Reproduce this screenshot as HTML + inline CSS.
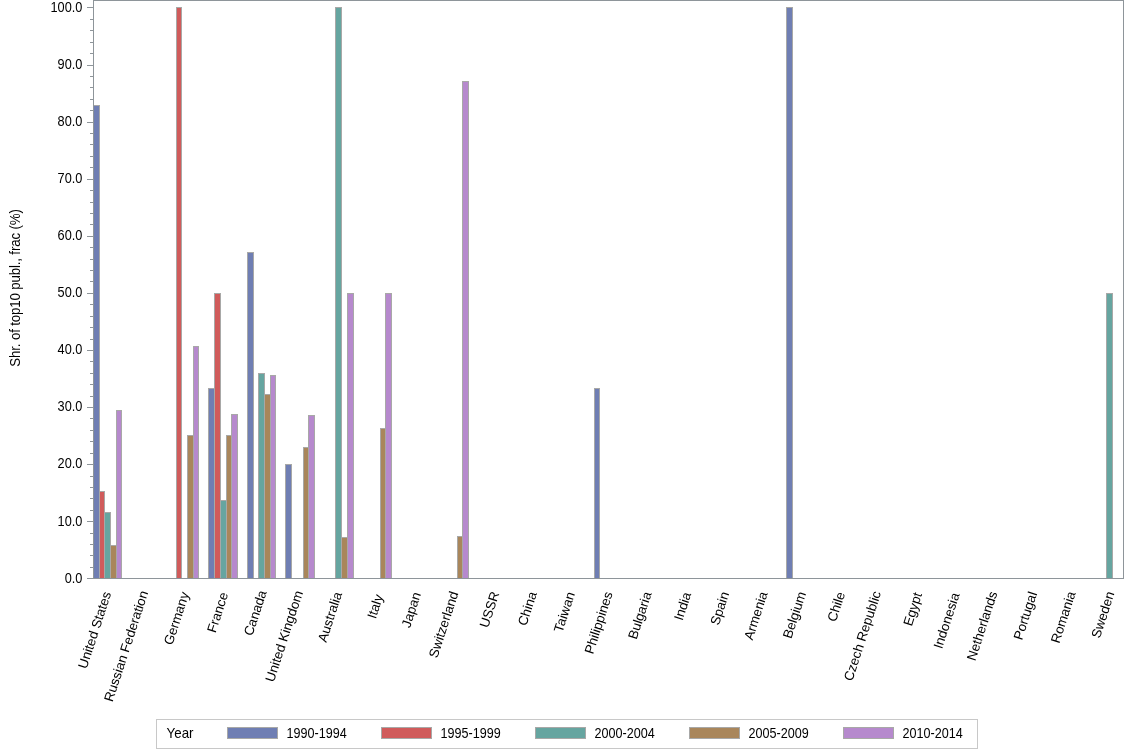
<!DOCTYPE html>
<html><head><meta charset="utf-8"><title>Chart</title>
<style>html,body{margin:0;padding:0;background:#fff}svg{display:block}text{font-family:"Liberation Sans",Arial,sans-serif;font-size:12.5px;fill:#000}.yt{font-size:14px}.lb{font-size:14px}.xl{font-size:13.33px}</style></head><body>
<svg width="1134" height="756" viewBox="0 0 1134 756">
<rect x="0" y="0" width="1134" height="756" fill="#fff"/>
<g shape-rendering="crispEdges">
<rect x="93.5" y="105.5" width="6" height="473" fill="#6F7EB3" stroke="#A8A8A7" stroke-width="1"/>
<rect x="99.5" y="491.5" width="5" height="87" fill="#D05B5B" stroke="#A8A8A7" stroke-width="1"/>
<rect x="104.5" y="512.5" width="6" height="66" fill="#66A5A0" stroke="#A8A8A7" stroke-width="1"/>
<rect x="110.5" y="545.5" width="6" height="33" fill="#A9865B" stroke="#A8A8A7" stroke-width="1"/>
<rect x="116.5" y="410.5" width="5" height="168" fill="#B689CD" stroke="#A8A8A7" stroke-width="1"/>
<rect x="176.5" y="7.5" width="5" height="571" fill="#D05B5B" stroke="#A8A8A7" stroke-width="1"/>
<rect x="187.5" y="435.5" width="6" height="143" fill="#A9865B" stroke="#A8A8A7" stroke-width="1"/>
<rect x="193.5" y="346.5" width="5" height="232" fill="#B689CD" stroke="#A8A8A7" stroke-width="1"/>
<rect x="208.5" y="388.5" width="6" height="190" fill="#6F7EB3" stroke="#A8A8A7" stroke-width="1"/>
<rect x="214.5" y="293.5" width="6" height="285" fill="#D05B5B" stroke="#A8A8A7" stroke-width="1"/>
<rect x="220.5" y="500.5" width="6" height="78" fill="#66A5A0" stroke="#A8A8A7" stroke-width="1"/>
<rect x="226.5" y="435.5" width="5" height="143" fill="#A9865B" stroke="#A8A8A7" stroke-width="1"/>
<rect x="231.5" y="414.5" width="6" height="164" fill="#B689CD" stroke="#A8A8A7" stroke-width="1"/>
<rect x="247.5" y="252.5" width="6" height="326" fill="#6F7EB3" stroke="#A8A8A7" stroke-width="1"/>
<rect x="258.5" y="373.5" width="6" height="205" fill="#66A5A0" stroke="#A8A8A7" stroke-width="1"/>
<rect x="264.5" y="394.5" width="6" height="184" fill="#A9865B" stroke="#A8A8A7" stroke-width="1"/>
<rect x="270.5" y="375.5" width="5" height="203" fill="#B689CD" stroke="#A8A8A7" stroke-width="1"/>
<rect x="285.5" y="464.5" width="6" height="114" fill="#6F7EB3" stroke="#A8A8A7" stroke-width="1"/>
<rect x="303.5" y="447.5" width="5" height="131" fill="#A9865B" stroke="#A8A8A7" stroke-width="1"/>
<rect x="308.5" y="415.5" width="6" height="163" fill="#B689CD" stroke="#A8A8A7" stroke-width="1"/>
<rect x="335.5" y="7.5" width="6" height="571" fill="#66A5A0" stroke="#A8A8A7" stroke-width="1"/>
<rect x="341.5" y="537.5" width="6" height="41" fill="#A9865B" stroke="#A8A8A7" stroke-width="1"/>
<rect x="347.5" y="293.5" width="6" height="285" fill="#B689CD" stroke="#A8A8A7" stroke-width="1"/>
<rect x="380.5" y="428.5" width="5" height="150" fill="#A9865B" stroke="#A8A8A7" stroke-width="1"/>
<rect x="385.5" y="293.5" width="6" height="285" fill="#B689CD" stroke="#A8A8A7" stroke-width="1"/>
<rect x="457.5" y="536.5" width="5" height="42" fill="#A9865B" stroke="#A8A8A7" stroke-width="1"/>
<rect x="462.5" y="81.5" width="6" height="497" fill="#B689CD" stroke="#A8A8A7" stroke-width="1"/>
<rect x="594.5" y="388.5" width="5" height="190" fill="#6F7EB3" stroke="#A8A8A7" stroke-width="1"/>
<rect x="786.5" y="7.5" width="6" height="571" fill="#6F7EB3" stroke="#A8A8A7" stroke-width="1"/>
<rect x="1106.5" y="293.5" width="6" height="285" fill="#66A5A0" stroke="#A8A8A7" stroke-width="1"/>
<path d="M93.5 578.5V0.5H1123.5V578.5" fill="none" stroke="#8E959A"/>
<path d="M87 578.5H1124" fill="none" stroke="#8E959A"/>
<path d="M87 578.5H93M90 567.5H93M90 555.5H93M90 544.5H93M90 533.5H93M87 521.5H93M90 510.5H93M90 498.5H93M90 487.5H93M90 476.5H93M87 464.5H93M90 453.5H93M90 441.5H93M90 430.5H93M90 418.5H93M87 407.5H93M90 396.5H93M90 384.5H93M90 373.5H93M90 361.5H93M87 350.5H93M90 339.5H93M90 327.5H93M90 316.5H93M90 304.5H93M87 293.5H93M90 281.5H93M90 270.5H93M90 259.5H93M90 247.5H93M87 236.5H93M90 224.5H93M90 213.5H93M90 202.5H93M90 190.5H93M87 179.5H93M90 167.5H93M90 156.5H93M90 144.5H93M90 133.5H93M87 122.5H93M90 110.5H93M90 99.5H93M90 87.5H93M90 76.5H93M87 65.5H93M90 53.5H93M90 42.5H93M90 30.5H93M90 19.5H93M87 7.5H93" fill="none" stroke="#8E959A"/>
</g>
<text transform="translate(82.4 583) scale(0.91 1)" text-anchor="end" class="yt">0.0</text>
<text transform="translate(82.4 526) scale(0.91 1)" text-anchor="end" class="yt">10.0</text>
<text transform="translate(82.4 468) scale(0.91 1)" text-anchor="end" class="yt">20.0</text>
<text transform="translate(82.4 411) scale(0.91 1)" text-anchor="end" class="yt">30.0</text>
<text transform="translate(82.4 354) scale(0.91 1)" text-anchor="end" class="yt">40.0</text>
<text transform="translate(82.4 297) scale(0.91 1)" text-anchor="end" class="yt">50.0</text>
<text transform="translate(82.4 240) scale(0.91 1)" text-anchor="end" class="yt">60.0</text>
<text transform="translate(82.4 183) scale(0.91 1)" text-anchor="end" class="yt">70.0</text>
<text transform="translate(82.4 126) scale(0.91 1)" text-anchor="end" class="yt">80.0</text>
<text transform="translate(82.4 69) scale(0.91 1)" text-anchor="end" class="yt">90.0</text>
<text transform="translate(82.4 12) scale(0.91 1)" text-anchor="end" class="yt">100.0</text>
<text class="lb" transform="translate(20.2 287.9) rotate(-90) scale(0.952 1)" text-anchor="middle" textLength="165.4" lengthAdjust="spacing">Shr. of top10 publ., frac (%)</text>
<text class="xl" transform="translate(107.5 592.1) rotate(-72)" text-anchor="end" dy="4">United States</text>
<text class="xl" transform="translate(144.5 591.3) rotate(-72)" text-anchor="end" dy="4">Russian Federation</text>
<text class="xl" transform="translate(185.4 592.5) rotate(-72)" text-anchor="end" dy="4">Germany</text>
<text class="xl" transform="translate(224.6 592.8) rotate(-72)" text-anchor="end" dy="4">France</text>
<text class="xl" transform="translate(263.0 590.9) rotate(-72)" text-anchor="end" dy="4">Canada</text>
<text class="xl" transform="translate(299.3 591.2) rotate(-72)" text-anchor="end" dy="4">United Kingdom</text>
<text class="xl" transform="translate(338.4 592.4) rotate(-72)" text-anchor="end" dy="4">Australia</text>
<text class="xl" transform="translate(379.4 595.0) rotate(-72)" text-anchor="end" dy="4">Italy</text>
<text class="xl" transform="translate(417.3 592.6) rotate(-72)" text-anchor="end" dy="4">Japan</text>
<text class="xl" transform="translate(454.7 591.9) rotate(-72)" text-anchor="end" dy="4">Switzerland</text>
<text class="xl" transform="translate(495.6 592.1) rotate(-72)" text-anchor="end" dy="4">USSR</text>
<text class="xl" transform="translate(533.3 592.2) rotate(-72)" text-anchor="end" dy="4">China</text>
<text class="xl" transform="translate(571.3 592.5) rotate(-72)" text-anchor="end" dy="4">Taiwan</text>
<text class="xl" transform="translate(609.0 592.1) rotate(-72)" text-anchor="end" dy="4">Philippines</text>
<text class="xl" transform="translate(647.9 592.3) rotate(-72)" text-anchor="end" dy="4">Bulgaria</text>
<text class="xl" transform="translate(687.6 592.6) rotate(-72)" text-anchor="end" dy="4">India</text>
<text class="xl" transform="translate(725.5 592.3) rotate(-72)" text-anchor="end" dy="4">Spain</text>
<text class="xl" transform="translate(764.0 592.2) rotate(-72)" text-anchor="end" dy="4">Armenia</text>
<text class="xl" transform="translate(802.3 592.2) rotate(-72)" text-anchor="end" dy="4">Belgium</text>
<text class="xl" transform="translate(841.4 592.4) rotate(-72)" text-anchor="end" dy="4">Chile</text>
<text class="xl" transform="translate(877.3 591.7) rotate(-72)" text-anchor="end" dy="4">Czech Republic</text>
<text class="xl" transform="translate(918.4 593.0) rotate(-72)" text-anchor="end" dy="4">Egypt</text>
<text class="xl" transform="translate(956.0 593.3) rotate(-72)" text-anchor="end" dy="4">Indonesia</text>
<text class="xl" transform="translate(993.7 591.8) rotate(-72)" text-anchor="end" dy="4">Netherlands</text>
<text class="xl" transform="translate(1033.5 592.3) rotate(-72)" text-anchor="end" dy="4">Portugal</text>
<text class="xl" transform="translate(1071.9 592.0) rotate(-72)" text-anchor="end" dy="4">Romania</text>
<text class="xl" transform="translate(1110.8 592.0) rotate(-72)" text-anchor="end" dy="4">Sweden</text>
<rect x="156.5" y="719.5" width="821" height="29" fill="#fff" stroke="#C8C8C8" shape-rendering="crispEdges"/>
<text class="lb" transform="translate(166.6 737.8) scale(0.952 1)">Year</text>
<rect x="227.5" y="727.5" width="50" height="11" fill="#6F7EB3" stroke="#A8A8A7" shape-rendering="crispEdges"/>
<text transform="translate(286.5 738) scale(0.9 1)" class="yt">1990-1994</text>
<rect x="381.5" y="727.5" width="50" height="11" fill="#D05B5B" stroke="#A8A8A7" shape-rendering="crispEdges"/>
<text transform="translate(440.5 738) scale(0.9 1)" class="yt">1995-1999</text>
<rect x="535.5" y="727.5" width="50" height="11" fill="#66A5A0" stroke="#A8A8A7" shape-rendering="crispEdges"/>
<text transform="translate(594.5 738) scale(0.9 1)" class="yt">2000-2004</text>
<rect x="689.5" y="727.5" width="50" height="11" fill="#A9865B" stroke="#A8A8A7" shape-rendering="crispEdges"/>
<text transform="translate(748.5 738) scale(0.9 1)" class="yt">2005-2009</text>
<rect x="843.5" y="727.5" width="50" height="11" fill="#B689CD" stroke="#A8A8A7" shape-rendering="crispEdges"/>
<text transform="translate(902.5 738) scale(0.9 1)" class="yt">2010-2014</text>
</svg></body></html>
